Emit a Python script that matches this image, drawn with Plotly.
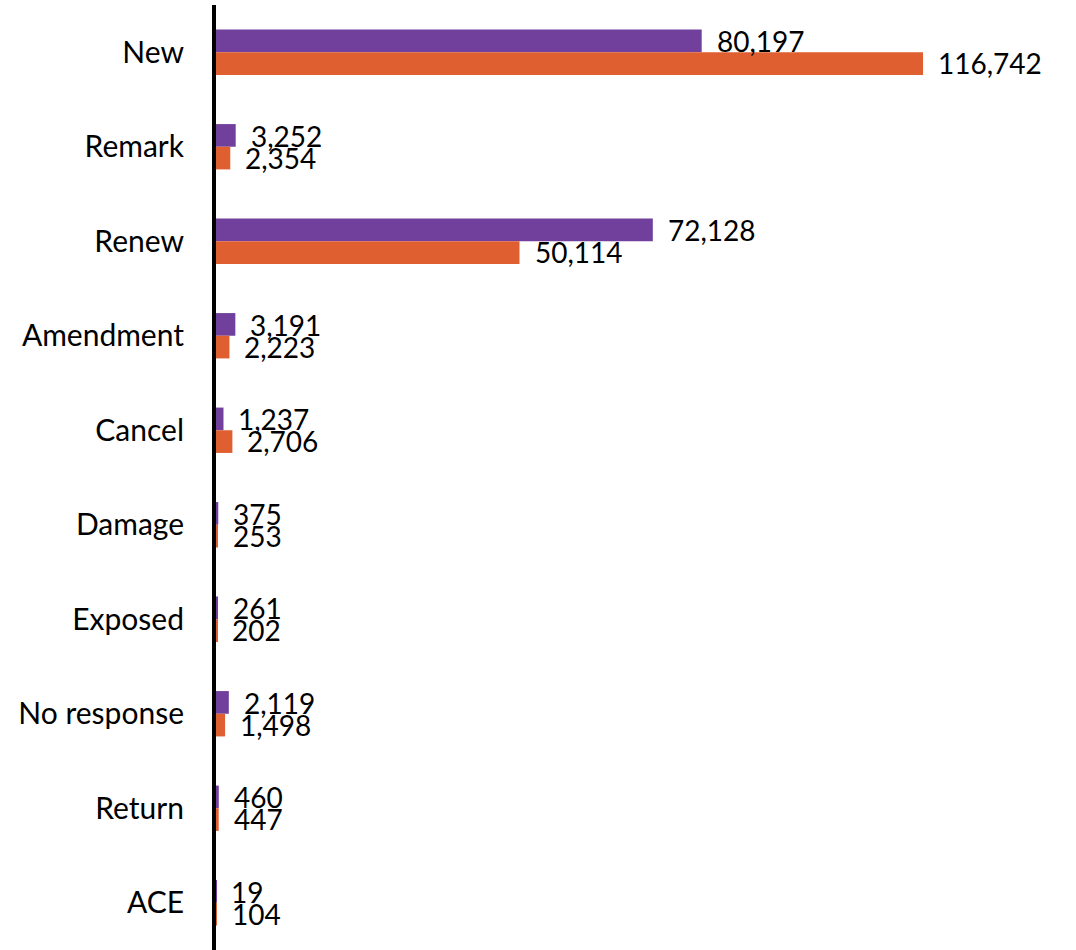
import plotly.graph_objects as go

categories = ["New", "Remark", "Renew", "Amendment", "Cancel", "Damage",
              "Exposed", "No response", "Return", "ACE"]
series_a = [80197, 3252, 72128, 3191, 1237, 375, 261, 2119, 460, 19]
series_b = [116742, 2354, 50114, 2223, 2706, 253, 202, 1498, 447, 104]

purple = "#71409C"
orange = "#E05F31"
font_family = "Lato, 'Open Sans', sans-serif"

fig = go.Figure()
fig.add_trace(go.Bar(y=categories, x=series_a, orientation="h",
                     marker=dict(color=purple, line=dict(width=0)),
                     hoverinfo="x+y"))
fig.add_trace(go.Bar(y=categories, x=series_b, orientation="h",
                     marker=dict(color=orange, line=dict(width=0)),
                     hoverinfo="x+y"))

# value labels just past the end of each bar
annotations = []
for cat, va, vb in zip(categories, series_a, series_b):
    for val, shift in ((va, 11), (vb, -11)):
        annotations.append(dict(
            x=val, y=cat, xref="x", yref="y", text=f"{val:,}",
            showarrow=False, xanchor="left", yanchor="middle",
            xshift=13, yshift=shift,
            font=dict(family=font_family, size=28, color="black")))

fig.update_layout(
    width=1076, height=950,
    margin=dict(l=216, r=0, t=5, b=0),
    paper_bgcolor="white", plot_bgcolor="white",
    barmode="group", bargap=0.52, bargroupgap=0,
    showlegend=False,
    annotations=annotations,
    font=dict(family=font_family, size=28, color="black"),
)
fig.update_xaxes(range=[0, 142000], visible=False, showgrid=False, zeroline=False)
fig.update_yaxes(autorange="reversed", showgrid=False, zeroline=False,
                 showline=True, linecolor="black", linewidth=4,
                 ticks="", ticklabelstandoff=22,
                 tickfont=dict(family=font_family, size=30, color="black"))

fig.write_html("out.html")
